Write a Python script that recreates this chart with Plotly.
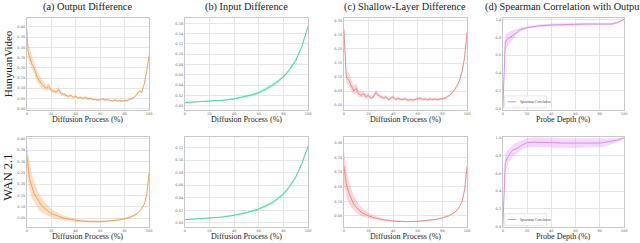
import plotly.graph_objects as go

# ---------------- data ----------------
titles = ["(a) Output Difference", "(b) Input Difference", "(c) Shallow-Layer Difference",
          "(d) Spearman Correlation with Output"]
row_labels = ["HunyuanVideo", "WAN 2.1"]
x_labels = ["Diffusion Process (%)", "Diffusion Process (%)", "Diffusion Process (%)", "Probe Depth (%)"]
legend_label = "Spearman Correlation"

# Row 1 (HunyuanVideo)
h_out_x = [0, 1, 2, 4, 6, 8, 10, 12, 14, 16, 18, 20, 22, 24, 26, 28, 30, 32, 34, 36, 38, 40, 42, 44, 46, 48, 50,
           52, 54, 56, 58, 60, 62, 64, 66, 68, 70, 72, 74, 76, 78, 80, 82, 84, 86, 88, 90, 92, 94, 96, 98, 100]
h_out_y = [0.39, 0.28, 0.26, 0.22, 0.20, 0.16, 0.14, 0.12, 0.11, 0.10, 0.11, 0.09, 0.085, 0.08, 0.095, 0.075,
           0.07, 0.065, 0.06, 0.065, 0.055, 0.06, 0.05, 0.055, 0.05, 0.055, 0.048, 0.05, 0.045, 0.045, 0.042,
           0.045, 0.048, 0.042, 0.045, 0.04, 0.038, 0.042, 0.038, 0.04, 0.036, 0.04, 0.038, 0.045, 0.05, 0.055,
           0.07, 0.085, 0.08, 0.12, 0.18, 0.26]
h_out_lo = [0.37, 0.25, 0.22, 0.19, 0.17, 0.13, 0.12, 0.10, 0.095, 0.088, 0.095, 0.078, 0.075, 0.07, 0.082,
            0.066, 0.062, 0.058, 0.053, 0.057, 0.048, 0.053, 0.044, 0.049, 0.044, 0.048, 0.042, 0.044, 0.04,
            0.04, 0.037, 0.04, 0.043, 0.037, 0.04, 0.035, 0.034, 0.037, 0.034, 0.035, 0.032, 0.035, 0.034,
            0.04, 0.045, 0.05, 0.064, 0.079, 0.075, 0.114, 0.174, 0.255]
h_out_hi = [0.40, 0.31, 0.30, 0.26, 0.23, 0.19, 0.17, 0.145, 0.13, 0.115, 0.125, 0.10, 0.097, 0.09, 0.108,
            0.085, 0.078, 0.072, 0.067, 0.073, 0.062, 0.067, 0.056, 0.061, 0.056, 0.062, 0.054, 0.056, 0.05,
            0.05, 0.047, 0.05, 0.053, 0.047, 0.05, 0.045, 0.042, 0.047, 0.042, 0.045, 0.04, 0.045, 0.042,
            0.05, 0.055, 0.06, 0.076, 0.091, 0.085, 0.126, 0.186, 0.265]

h_in_x = [0, 10, 20, 30, 40, 50, 55, 60, 65, 70, 75, 80, 85, 90, 95, 100]
h_in_y = [0.006, 0.007, 0.008, 0.010, 0.013, 0.018, 0.021, 0.025, 0.031, 0.038, 0.046, 0.056, 0.070, 0.088,
          0.115, 0.155]
h_in_lo = [0.005, 0.006, 0.007, 0.0088, 0.0115, 0.0158, 0.0185, 0.0222, 0.0278, 0.0345, 0.0425, 0.0525,
           0.0668, 0.085, 0.112, 0.153]
h_in_hi = [0.007, 0.008, 0.009, 0.0112, 0.0145, 0.0202, 0.0235, 0.0278, 0.0342, 0.0415, 0.0495, 0.0595,
           0.0732, 0.091, 0.118, 0.157]

h_sh_x = [0, 0.5, 1, 2, 4, 6, 8, 10, 12, 14, 16, 18, 20, 22, 24, 26, 28, 30, 32, 34, 36, 38, 40, 42, 44, 46, 48,
          50, 52, 54, 56, 58, 60, 62, 64, 66, 68, 70, 72, 74, 76, 78, 80, 82, 84, 86, 88, 90, 92, 94, 96, 98, 100]
h_sh_y = [0.27, 0.23, 0.15, 0.10, 0.09, 0.07, 0.05, 0.06, 0.04, 0.035, 0.04, 0.03, 0.035, 0.025, 0.03, 0.045,
          0.035, 0.03, 0.025, 0.03, 0.02, 0.025, 0.03, 0.02, 0.025, 0.02, 0.02, 0.022, 0.018, 0.02, 0.018, 0.02,
          0.022, 0.025, 0.02, 0.022, 0.02, 0.022, 0.02, 0.022, 0.02, 0.022, 0.024, 0.025, 0.03, 0.035, 0.045,
          0.055, 0.07, 0.09, 0.12, 0.17, 0.26]
h_sh_lo = [0.25, 0.20, 0.12, 0.08, 0.07, 0.05, 0.035, 0.045, 0.03, 0.026, 0.03, 0.022, 0.027, 0.018, 0.023,
           0.037, 0.028, 0.024, 0.019, 0.024, 0.015, 0.019, 0.024, 0.015, 0.019, 0.015, 0.015, 0.017, 0.013,
           0.015, 0.013, 0.015, 0.017, 0.02, 0.015, 0.017, 0.015, 0.017, 0.015, 0.017, 0.015, 0.017, 0.019,
           0.021, 0.026, 0.031, 0.041, 0.051, 0.066, 0.086, 0.116, 0.166, 0.255]
h_sh_hi = [0.29, 0.26, 0.18, 0.12, 0.115, 0.09, 0.068, 0.078, 0.052, 0.046, 0.05, 0.04, 0.044, 0.032, 0.038,
           0.054, 0.042, 0.037, 0.031, 0.036, 0.026, 0.031, 0.036, 0.025, 0.031, 0.025, 0.025, 0.027, 0.023,
           0.025, 0.023, 0.025, 0.027, 0.03, 0.025, 0.027, 0.025, 0.027, 0.025, 0.027, 0.025, 0.027, 0.029,
           0.029, 0.034, 0.039, 0.049, 0.059, 0.074, 0.094, 0.124, 0.174, 0.265]

h_sp_x = [0, 2, 4, 6, 8, 10, 12, 15, 20, 25, 30, 40, 50, 60, 70, 80, 90, 95, 100]
h_sp_y = [0.0, 0.75, 0.78, 0.80, 0.83, 0.85, 0.87, 0.89, 0.91, 0.92, 0.93, 0.94, 0.945, 0.95, 0.95, 0.95, 0.95,
          0.97, 1.0]
h_sp_lo = [0.0, 0.66, 0.70, 0.74, 0.78, 0.81, 0.84, 0.87, 0.895, 0.905, 0.915, 0.925, 0.93, 0.935, 0.935, 0.935,
           0.935, 0.96, 0.995]
h_sp_hi = [0.0, 0.83, 0.85, 0.87, 0.88, 0.89, 0.90, 0.91, 0.925, 0.935, 0.945, 0.955, 0.96, 0.965, 0.965, 0.965,
           0.965, 0.98, 1.005]

# Row 2 (WAN 2.1)
w_out_x = [0, 1, 2, 4, 6, 8, 10, 12, 15, 20, 25, 30, 35, 40, 45, 50, 55, 60, 65, 70, 75, 80, 85, 90, 93, 96, 98, 100]
w_out_y = [0.33, 0.27, 0.23, 0.19, 0.16, 0.14, 0.12, 0.105, 0.09, 0.07, 0.06, 0.05, 0.045, 0.04, 0.037, 0.035,
           0.034, 0.034, 0.036, 0.038, 0.042, 0.047, 0.055, 0.068, 0.085, 0.11, 0.15, 0.25]
w_out_lo = [0.24, 0.21, 0.18, 0.14, 0.12, 0.10, 0.085, 0.075, 0.065, 0.052, 0.046, 0.04, 0.037, 0.033, 0.031,
            0.03, 0.03, 0.03, 0.032, 0.034, 0.038, 0.043, 0.051, 0.064, 0.081, 0.106, 0.146, 0.245]
w_out_hi = [0.37, 0.34, 0.30, 0.25, 0.21, 0.18, 0.16, 0.14, 0.12, 0.09, 0.075, 0.062, 0.054, 0.048, 0.044, 0.041,
            0.039, 0.039, 0.041, 0.043, 0.047, 0.052, 0.06, 0.073, 0.09, 0.115, 0.155, 0.255]

w_in_x = [0, 10, 20, 30, 40, 50, 60, 65, 70, 75, 80, 85, 90, 95, 100]
w_in_y = [0.005, 0.006, 0.0075, 0.009, 0.012, 0.016, 0.022, 0.026, 0.031, 0.038, 0.046, 0.058, 0.073, 0.095, 0.122]
w_in_lo = [0.0042, 0.0052, 0.0066, 0.008, 0.0108, 0.0145, 0.0202, 0.024, 0.0288, 0.0355, 0.0432, 0.0552, 0.0705,
           0.0925, 0.119]
w_in_hi = [0.0058, 0.0068, 0.0084, 0.010, 0.0132, 0.0175, 0.0238, 0.028, 0.0332, 0.0405, 0.0488, 0.0608, 0.0755,
           0.0975, 0.125]

w_sh_x = [0, 1, 2, 4, 6, 8, 10, 12, 15, 20, 25, 30, 40, 50, 60, 70, 75, 80, 85, 90, 93, 96, 98, 100]
w_sh_y = [0.22, 0.19, 0.16, 0.13, 0.11, 0.09, 0.08, 0.07, 0.06, 0.05, 0.043, 0.038, 0.032, 0.03, 0.031, 0.035,
          0.038, 0.043, 0.05, 0.062, 0.075, 0.10, 0.14, 0.22]
w_sh_lo = [0.15, 0.14, 0.12, 0.095, 0.08, 0.068, 0.06, 0.054, 0.048, 0.042, 0.037, 0.034, 0.029, 0.028, 0.029,
           0.033, 0.036, 0.041, 0.048, 0.06, 0.073, 0.098, 0.137, 0.215]
w_sh_hi = [0.28, 0.25, 0.21, 0.17, 0.145, 0.12, 0.105, 0.09, 0.076, 0.06, 0.05, 0.043, 0.035, 0.032, 0.033, 0.037,
           0.04, 0.045, 0.052, 0.064, 0.077, 0.102, 0.143, 0.225]

w_sp_x = [0, 2, 4, 6, 8, 10, 12, 15, 20, 25, 30, 40, 50, 60, 70, 80, 85, 90, 95, 100]
w_sp_y = [0.0, 0.72, 0.78, 0.82, 0.86, 0.87, 0.88, 0.91, 0.945, 0.95, 0.95, 0.945, 0.94, 0.94, 0.945, 0.94, 0.95,
          0.965, 0.975, 1.0]
w_sp_lo = [0.0, 0.62, 0.70, 0.75, 0.79, 0.81, 0.83, 0.86, 0.89, 0.895, 0.895, 0.89, 0.885, 0.885, 0.89, 0.89, 0.905,
           0.93, 0.955, 0.995]
w_sp_hi = [0.0, 0.82, 0.86, 0.89, 0.92, 0.94, 0.95, 0.97, 0.995, 1.005, 1.005, 1.0, 0.995, 0.995, 1.0, 0.995,
           1.0, 1.0, 0.995, 1.005]

# y-axis settings per panel (range, tick step)
y_ranges = [[-0.005, 0.445], [-0.008, 0.171], [-0.016, 0.311], [-0.01, 1.02],
            [0.01, 0.407], [-0.007, 0.1366], [0.011, 0.32], [-0.005, 1.005]]
y_dticks = [0.05, 0.02, 0.05, 0.2, 0.05, 0.02, 0.05, 0.2]
y_tick0 = [0.05, 0.0, 0.0, 0.0, 0.05, 0.0, 0.05, 0.0]
y_fmt = [".2f", ".2f", ".2f", ".1f", ".2f", ".2f", ".2f", ".1f"]

panels = [
    (h_out_x, h_out_y, h_out_lo, h_out_hi), (h_in_x, h_in_y, h_in_lo, h_in_hi),
    (h_sh_x, h_sh_y, h_sh_lo, h_sh_hi), (h_sp_x, h_sp_y, h_sp_lo, h_sp_hi),
    (w_out_x, w_out_y, w_out_lo, w_out_hi), (w_in_x, w_in_y, w_in_lo, w_in_hi),
    (w_sh_x, w_sh_y, w_sh_lo, w_sh_hi), (w_sp_x, w_sp_y, w_sp_lo, w_sp_hi),
]

line_colors = ["#f5a35c", "#3fdcae", "#f48a86", "#d98cf2"]
band_colors = ["rgba(248,176,110,0.40)", "rgba(80,220,180,0.35)", "rgba(246,140,140,0.35)",
               "rgba(220,150,245,0.35)"]

# ---------------- layout geometry ----------------
W, H = 640, 243
col_px = [(26, 149), (185, 309), (345, 469), (505, 627)]
row_px = [(17, 110), (138, 229)]
xlab_y = [119.5, 238.5]

fig = go.Figure()
layout = dict(width=W, height=H, margin=dict(l=0, r=0, t=0, b=0), paper_bgcolor="white",
              plot_bgcolor="white", showlegend=False, annotations=[], shapes=[])

serif = "Liberation Serif"

for i, (xs, ys, lo, hi) in enumerate(panels):
    r, c = divmod(i, 4)
    n = i + 1
    xa = "x" if n == 1 else f"x{n}"
    ya = "y" if n == 1 else f"y{n}"
    fig.add_trace(go.Scatter(x=xs, y=lo, mode="lines", line=dict(width=0), xaxis=xa, yaxis=ya,
                             hoverinfo="skip"))
    fig.add_trace(go.Scatter(x=xs, y=hi, mode="lines", line=dict(width=0), fill="tonexty",
                             fillcolor=band_colors[c], xaxis=xa, yaxis=ya, hoverinfo="skip"))
    fig.add_trace(go.Scatter(x=xs, y=ys, mode="lines", line=dict(color=line_colors[c], width=1),
                             xaxis=xa, yaxis=ya))
    x0, x1 = col_px[c]
    yt, yb = row_px[r]
    axis_common = dict(showgrid=True, gridcolor="#e6e6e6", gridwidth=0.8, zeroline=False,
                       showline=True, linecolor="#c8c8c8", linewidth=1, mirror=True,
                       ticks="", tickfont=dict(size=3.5, color="#666", family="DejaVu Sans"))
    layout["xaxis" if n == 1 else f"xaxis{n}"] = dict(
        domain=[x0 / W, x1 / W], anchor=ya, range=[0, 100], dtick=20, tick0=0, ticklen=0,
        **axis_common)
    layout["yaxis" if n == 1 else f"yaxis{n}"] = dict(
        domain=[1 - yb / H, 1 - yt / H], anchor=xa, range=y_ranges[i], dtick=y_dticks[i],
        tick0=y_tick0[i], tickformat=y_fmt[i], **axis_common)
    # x-axis title
    layout["annotations"].append(dict(
        text=x_labels[c], x=(x0 + x1) / 2 / W, y=1 - xlab_y[r] / H, xref="paper", yref="paper",
        showarrow=False, xanchor="center", yanchor="middle",
        font=dict(family=serif, size=8, color="#222")))
    if c == 3:
        # legend box drawn inside the panel
        dom = f"{xa} domain"
        ydom = f"{ya} domain"
        layout["shapes"].append(dict(type="rect", xref=dom, yref=ydom, x0=0.015, x1=0.36, y0=0.02,
                                     y1=0.15, line=dict(color="#d8d8d8", width=0.6),
                                     fillcolor="rgba(255,255,255,0.85)"))
        layout["shapes"].append(dict(type="line", xref=dom, yref=ydom, x0=0.04, x1=0.11, y0=0.085,
                                     y1=0.085, line=dict(color=line_colors[3], width=1)))
        layout["annotations"].append(dict(
            text=legend_label, xref=dom, yref=ydom, x=0.125, y=0.085, showarrow=False,
            xanchor="left", yanchor="middle", font=dict(family=serif, size=3.5, color="#444")))

for c in range(4):
    x0, x1 = col_px[c]
    layout["annotations"].append(dict(
        text=titles[c], x=(x0 + x1) / 2 / W, y=1 - 6.5 / H, xref="paper", yref="paper",
        showarrow=False, xanchor="center", yanchor="middle",
        font=dict(family=serif, size=10.3, color="#222")))

row_centers = [63, 178]
row_sizes = [11, 12.5]
for r in range(2):
    layout["annotations"].append(dict(
        text=row_labels[r], x=7 / W, y=1 - row_centers[r] / H, xref="paper", yref="paper",
        showarrow=False, textangle=-90, xanchor="center", yanchor="middle",
        font=dict(family=serif, size=row_sizes[r], color="#222")))

fig.update_layout(**layout)
fig.write_html("out.html", config={"displayModeBar": False},
               post_script="document.body.style.margin='0';document.body.style.overflow='hidden';")
